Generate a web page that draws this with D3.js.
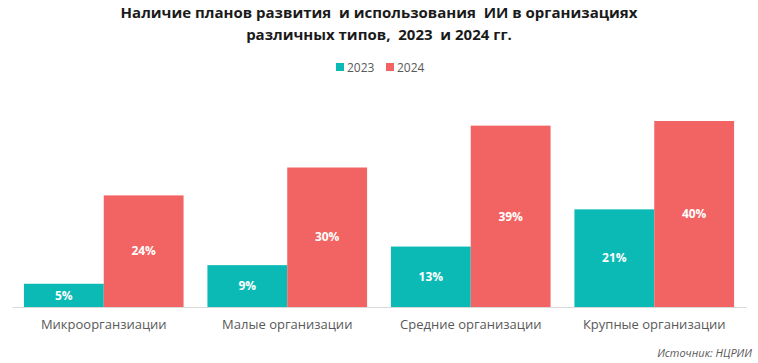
<!DOCTYPE html>
<html><head><meta charset="utf-8">
<script src="https://cdn.jsdelivr.net/npm/d3@7"></script>
<style>body{margin:0;background:#fff}svg{display:block;font-family:"Open Sans",sans-serif}.t{white-space:pre}</style>
</head><body><svg id="c" width="758" height="363"></svg>
<script>
const categories = ["Микроорганзиации","Малые организации","Средние организации","Крупные организации"];
const seriesNames = ["2023","2024"];
const values2023 = [5,9,13,21];
const values2024 = [24,30,39,40];
const colors = ["#0CBAB5","#F26463"];
const titleLines = ["Наличие планов развития  и использования  ИИ в организациях","различных типов,  2023  и 2024 гг."];
const sourceText = "Источник: НЦРИИ";

const svg = d3.select("#c");
const x0 = d3.scaleBand().domain(categories).range([12,746]).paddingInner(0.13).paddingOuter(0.065);
const x1 = d3.scaleBand().domain(seriesNames).range([0,x0.bandwidth()]);
const y = d3.scaleLinear().domain([0,40]).range([307,121]);
const series = [values2023, values2024];

svg.append("g").selectAll("text").data(titleLines).join("text").attr("class","t")
  .attr("x",379).attr("y",(d,i)=>18+i*22).attr("text-anchor","middle")
  .attr("font-size",15).attr("font-weight",700).attr("fill","#1a1a1a").text(d=>d);

// legend
const leg = svg.append("g");
const legX = [336,386];
seriesNames.forEach((s,i)=>{
  leg.append("rect").attr("x",legX[i]).attr("y",63).attr("width",8).attr("height",8).attr("fill",colors[i]);
  leg.append("text").attr("x",legX[i]+11).attr("y",71.5).attr("font-size",12).attr("fill","#595959").text(s);
});

const g = svg.append("g");
categories.forEach((c,ci)=>{
  seriesNames.forEach((s,si)=>{
    const v = series[si][ci];
    const bx = x0(c)+x1(s);
    g.append("rect").attr("x",bx).attr("y",y(v)).attr("width",x1.bandwidth()).attr("height",y(0)-y(v)).attr("fill",colors[si]);
    g.append("text").attr("x",bx+x1.bandwidth()/2).attr("y",(y(v)+y(0))/2).attr("dy","0.35em")
      .attr("text-anchor","middle").attr("font-size",12).attr("font-weight",700).attr("fill","#fff").text(v+"%");
  });
});

const ax = svg.append("g").attr("transform","translate(0,307)").call(d3.axisBottom(x0).tickSize(0).tickPadding(13));
ax.select(".domain").attr("stroke","#d9d9d9");
ax.selectAll("text").attr("font-size",13).attr("fill","#595959").attr("font-family","Open Sans, sans-serif");

svg.append("text").attr("x",752).attr("y",357).attr("text-anchor","end").attr("font-size",11)
  .attr("font-style","italic").attr("fill","#595959").text(sourceText);
</script></body></html>
